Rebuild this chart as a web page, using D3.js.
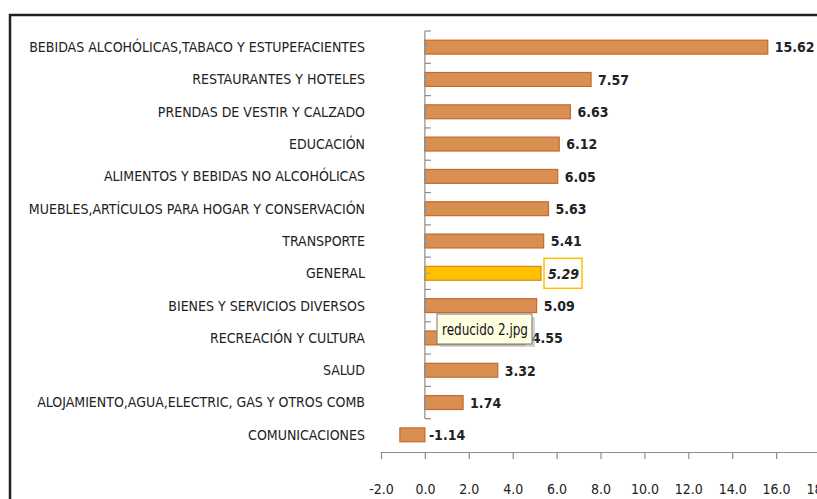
<!DOCTYPE html>
<html>
<head>
<meta charset="utf-8">
<script src="https://cdn.jsdelivr.net/npm/d3@7"></script>
<style>
  body { margin: 0; background: #fff; }
  svg { display: block; }
  .cat { font-family: "Liberation Sans Narrow", "DejaVu Sans Condensed", sans-serif; font-size: 14px; fill: #222; }
  .val { font-family: "Liberation Sans Narrow", "DejaVu Sans Condensed", sans-serif; font-size: 14px; font-weight: bold; fill: #222; }
  .tick text { font-family: "Liberation Sans Narrow", "DejaVu Sans Condensed", sans-serif; font-size: 14px; fill: #222; }
</style>
</head>
<body>
<svg id="chart" width="817" height="499"></svg>
<script>
// datos (variación %)
const categories = [
  "BEBIDAS ALCOHÓLICAS,TABACO Y ESTUPEFACIENTES",
  "RESTAURANTES Y HOTELES",
  "PRENDAS DE VESTIR Y CALZADO",
  "EDUCACIÓN",
  "ALIMENTOS Y BEBIDAS NO ALCOHÓLICAS",
  "MUEBLES,ARTÍCULOS PARA HOGAR Y CONSERVACIÓN",
  "TRANSPORTE",
  "GENERAL",
  "BIENES Y SERVICIOS DIVERSOS",
  "RECREACIÓN Y CULTURA",
  "SALUD",
  "ALOJAMIENTO,AGUA,ELECTRIC, GAS Y OTROS COMB",
  "COMUNICACIONES"
];
const values = [15.62, 7.57, 6.63, 6.12, 6.05, 5.63, 5.41, 5.29, 5.09, 4.55, 3.32, 1.74, -1.14];
const xTicks = [-2, 0, 2, 4, 6, 8, 10, 12, 14, 16, 18];
const highlight = "GENERAL";

const svg = d3.select("#chart");

const x = d3.scaleLinear().domain([-2, 18]).range([381, 820]);
const y = d3.scaleBand().domain(categories).range([31, 451]).paddingInner(0.57).paddingOuter(0.285);

// marco
svg.append("path")
  .attr("d", "M10,499 L10,15 L817,15")
  .attr("fill", "none")
  .attr("stroke", "#222")
  .attr("stroke-width", 2.5);

// barras
svg.selectAll("rect.bar")
  .data(categories)
  .join("rect")
  .attr("class", "bar")
  .attr("x", (d, i) => x(Math.min(0, values[i])))
  .attr("y", d => y(d))
  .attr("width", (d, i) => Math.abs(x(values[i]) - x(0)))
  .attr("height", y.bandwidth())
  .attr("fill", d => d === highlight ? "#FFC000" : "#D98E52")
  .attr("stroke", d => d === highlight ? "#D48A1E" : "#C46A2C")
  .attr("stroke-width", 1.2);

// eje de categorias (linea vertical)
const step = y.step();
const bounds = d3.range(categories.length).map(i => 31 + i * step);
svg.append("line")
  .attr("x1", x(0)).attr("x2", x(0))
  .attr("y1", bounds[0]).attr("y2", bounds[bounds.length - 1])
  .attr("stroke", "#8c8c8c").attr("stroke-width", 1.2);
svg.selectAll("line.ytick")
  .data(bounds)
  .join("line")
  .attr("class", "ytick")
  .attr("x1", x(0)).attr("x2", x(0) + 6)
  .attr("y1", d => d).attr("y2", d => d)
  .attr("stroke", "#8c8c8c").attr("stroke-width", 1.2);
svg.selectAll("line.ymid")
  .data(categories.slice(0, -1))
  .join("line")
  .attr("class", "ymid")
  .attr("x1", x(0)).attr("x2", x(0) + 6)
  .attr("y1", d => y(d) + y.bandwidth() / 2).attr("y2", d => y(d) + y.bandwidth() / 2)
  .attr("stroke", "#a0a0a0").attr("stroke-width", 1);

// etiquetas de categorias
svg.selectAll("text.cat")
  .data(categories)
  .join("text")
  .attr("class", "cat")
  .attr("x", 365)
  .attr("y", d => y(d) + y.bandwidth() / 2)
  .attr("dy", "0.35em")
  .attr("text-anchor", "end")
  .text(d => d);

// eje x
const xAxis = svg.append("g")
  .attr("transform", "translate(0,452)")
  .call(d3.axisBottom(x).tickValues(xTicks).tickFormat(d => d.toFixed(1)).tickSize(7).tickSizeOuter(0).tickPadding(25));
xAxis.select(".domain").attr("stroke", "#8c8c8c").attr("stroke-width", 1.2);
xAxis.selectAll(".tick line").attr("stroke", "#8c8c8c").attr("stroke-width", 1.2);

// valores
svg.selectAll("text.val")
  .data(categories)
  .join("text")
  .attr("class", "val")
  .attr("x", (d, i) => values[i] < 0 ? x(0) + 4 : x(values[i]) + 7)
  .attr("y", d => y(d) + y.bandwidth() / 2)
  .attr("dy", "0.38em")
  .attr("font-style", d => d === highlight ? "italic" : null)
  .text((d, i) => values[i].toFixed(2));

// recuadro del valor general
const gi = categories.indexOf(highlight);
const gx = x(values[gi]) + 3;
const gy = y(highlight) + y.bandwidth() / 2;
svg.insert("rect", "text.val")
  .attr("x", gx).attr("y", gy - 15)
  .attr("width", 38).attr("height", 30)
  .attr("fill", "#fff")
  .attr("stroke", "#FFC000")
  .attr("stroke-width", 1.5);

// tooltip
const tip = svg.append("g").attr("transform", "translate(437,314)");
tip.append("rect").attr("x", 3).attr("y", 3).attr("width", 95).attr("height", 30).attr("fill", "#b8b8b8").attr("opacity", 0.6);
tip.append("rect").attr("width", 95).attr("height", 30).attr("fill", "#FFFFE1").attr("stroke", "#767676");
tip.append("text")
  .attr("x", 5).attr("y", 21)
  .attr("font-family", "'DejaVu Sans Condensed', sans-serif")
  .attr("font-size", 15)
  .attr("textLength", 86)
  .attr("lengthAdjust", "spacingAndGlyphs")
  .attr("fill", "#111")
  .text("reducido 2.jpg");
</script>
</body>
</html>
